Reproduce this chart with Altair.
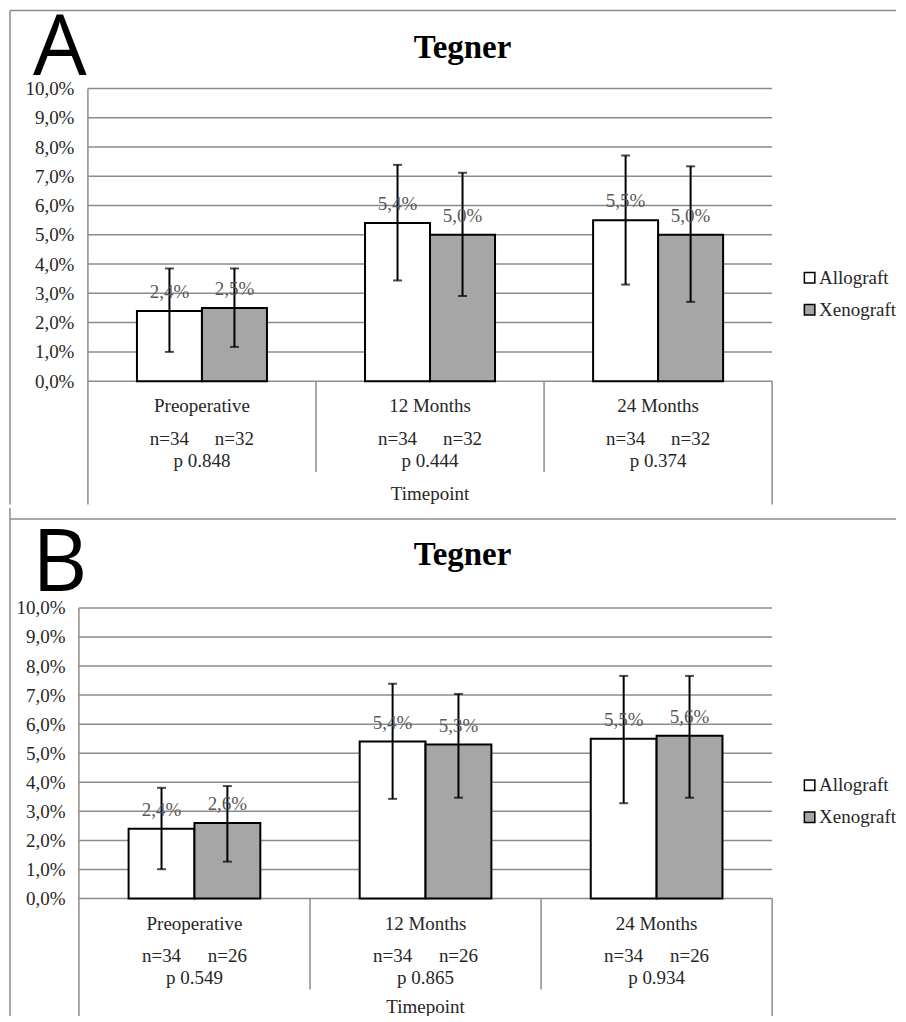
import altair as alt
import pandas as pd

SERIF = "Liberation Serif"
GRID = "#8c8c8c"
TXT = "#262626"

categories = ["Preoperative", "12 Months", "24 Months"]
groups = ["Allograft", "Xenograft"]
y_ticks = [0, 1, 2, 3, 4, 5, 6, 7, 8, 9, 10]

# ---- Panel A ----
a_allo = [2.4, 5.4, 5.5]
a_xeno = [2.5, 5.0, 5.0]
a_allo_lo = [1.0, 3.44, 3.30]
a_allo_hi = [3.85, 7.39, 7.71]
a_xeno_lo = [1.17, 2.91, 2.71]
a_xeno_hi = [3.85, 7.12, 7.34]
a_n_allo = [34, 34, 34]
a_n_xeno = [32, 32, 32]
a_p = ["0.848", "0.444", "0.374"]

# ---- Panel B ----
b_allo = [2.4, 5.4, 5.5]
b_xeno = [2.6, 5.3, 5.6]
b_allo_lo = [1.01, 3.43, 3.28]
b_allo_hi = [3.81, 7.39, 7.66]
b_xeno_lo = [1.27, 3.47, 3.47]
b_xeno_hi = [3.87, 7.04, 7.66]
b_n_allo = [34, 34, 34]
b_n_xeno = [26, 26, 26]
b_p = ["0.549", "0.865", "0.934"]

BAR = 0.285  # bar width as fraction of a category band


def fmt(v):
    return f"{v:.1f}".replace(".", ",") + "%"


def build_frames(allo, xeno, allo_lo, allo_hi, xeno_lo, xeno_hi, n_allo, n_xeno, p):
    rows = []
    for i, cat in enumerate(categories):
        for g, vals, lo, hi, n, side in [
            ("Allograft", allo, allo_lo, allo_hi, n_allo, -1),
            ("Xenograft", xeno, xeno_lo, xeno_hi, n_xeno, 0),
        ]:
            x0 = i + 0.5 + side * BAR
            rows.append(dict(cat=cat, group=g, value=vals[i], zero=0.0, lo=lo[i], hi=hi[i],
                             n=f"n={n[i]}", x0=x0, x1=x0 + BAR, xc=x0 + BAR / 2,
                             label=fmt(vals[i])))
    bars = pd.DataFrame(rows)
    cats = pd.DataFrame(dict(cat=categories, xc=[i + 0.5 for i in range(len(categories))],
                             p=["p " + s for s in p]))
    return bars, cats


def panel(letter, data, W, H, geo):
    bars_df, cats_df = build_frames(*data)
    gx0 = geo["gx0"]
    xs = alt.Scale(domain=[0, 3], range=[gx0, W], nice=False, zero=False)
    ys = alt.Scale(domain=[0, 10], nice=False, zero=True)
    yaxis = alt.Axis(values=y_ticks, title=None, grid=False, labelPadding=geo["lpad"],
                     labelExpr="replace(format(datum.value, '.1f'), '.', ',') + '%'")
    one = pd.DataFrame({"k": [0]})

    grid = alt.Chart(pd.DataFrame({"t": y_ticks})).mark_rule(color=GRID, strokeWidth=1.5).encode(
        x=alt.value(gx0), x2=alt.value(W),
        y=alt.Y("t:Q", scale=ys, axis=yaxis),
    )
    bars = alt.Chart(bars_df).mark_bar(stroke="black", strokeWidth=2).encode(
        x=alt.X("x0:Q", scale=xs, axis=None),
        x2="x1:Q",
        y=alt.Y("value:Q", scale=ys, axis=yaxis),
        y2="zero:Q",
        fill=alt.Fill("group:N",
                      scale=alt.Scale(domain=groups, range=["#ffffff", "#a6a6a6"]),
                      legend=alt.Legend(title=None, orient="none",
                                        legendX=geo["legx"], legendY=geo["legy"],
                                        symbolType="square", symbolSize=110,
                                        symbolStrokeColor="black", symbolStrokeWidth=1.5,
                                        labelFont=SERIF, labelFontSize=19, labelColor=TXT,
                                        labelOffset=0, rowPadding=12, padding=0)),
    )
    err = alt.Chart(bars_df).mark_rule(color="black", strokeWidth=2).encode(
        x=alt.X("xc:Q", scale=xs, axis=None),
        y=alt.Y("lo:Q", scale=ys, axis=yaxis),
        y2="hi:Q",
    )
    cap_hi = alt.Chart(bars_df).mark_tick(orient="horizontal", size=9, thickness=2, color="black").encode(
        x=alt.X("xc:Q", scale=xs, axis=None),
        y=alt.Y("hi:Q", scale=ys, axis=yaxis),
    )
    cap_lo = alt.Chart(bars_df).mark_tick(orient="horizontal", size=9, thickness=2, color="black").encode(
        x=alt.X("xc:Q", scale=xs, axis=None),
        y=alt.Y("lo:Q", scale=ys, axis=yaxis),
    )
    vals = alt.Chart(bars_df).mark_text(font=SERIF, fontSize=19, color="#595959",
                                        baseline="alphabetic", dy=-13).encode(
        x=alt.X("xc:Q", scale=xs, axis=None),
        y=alt.Y("value:Q", scale=ys, axis=yaxis),
        text="label:N",
    )
    cat_txt = alt.Chart(cats_df).mark_text(font=SERIF, fontSize=19, color=TXT,
                                           baseline="alphabetic").encode(
        x=alt.X("xc:Q", scale=xs, axis=None), y=alt.value(H + 31), text="cat:N")
    n_txt = alt.Chart(bars_df).mark_text(font=SERIF, fontSize=19, color=TXT,
                                         baseline="alphabetic").encode(
        x=alt.X("xc:Q", scale=xs, axis=None), y=alt.value(H + 64), text="n:N")
    p_txt = alt.Chart(cats_df).mark_text(font=SERIF, fontSize=19, color=TXT,
                                         baseline="alphabetic").encode(
        x=alt.X("xc:Q", scale=xs, axis=None), y=alt.value(H + 86), text="p:N")
    tp_txt = alt.Chart(one).mark_text(font=SERIF, fontSize=19, color=TXT,
                                      baseline="alphabetic", text="Timepoint").encode(
        x=alt.value((gx0 + W) / 2), y=alt.value(H + geo["tpy"]))

    left_line = alt.Chart(pd.DataFrame({"b": [0]})).mark_rule(color=GRID, strokeWidth=1.5).encode(
        x=alt.X("b:Q", scale=xs, axis=None), y=alt.value(0), y2=alt.value(H + geo["outer"]))
    right_line = alt.Chart(pd.DataFrame({"b": [3]})).mark_rule(color=GRID, strokeWidth=1.5).encode(
        x=alt.X("b:Q", scale=xs, axis=None), y=alt.value(H), y2=alt.value(H + geo["outer"]))
    inner_lines = alt.Chart(pd.DataFrame({"b": [1, 2]})).mark_rule(color=GRID, strokeWidth=1.5).encode(
        x=alt.X("b:Q", scale=xs, axis=None), y=alt.value(H), y2=alt.value(H + 91))

    title = alt.Chart(one).mark_text(font=SERIF, fontSize=33, fontWeight="bold", color="black",
                                     align="center", baseline="alphabetic", text="Tegner").encode(
        x=alt.value(geo["tx"]), y=alt.value(geo["ty"]))
    big = alt.Chart(one).mark_text(font="Open Sans", fontSize=geo["lfs"], color="black",
                                   align="left", baseline="alphabetic", text=letter).encode(
        x=alt.value(geo["lx"]), y=alt.value(geo["ly"]))

    bl = geo["bl"]
    border_left = alt.Chart(one).mark_rule(color=GRID, strokeWidth=1.5).encode(
        x=alt.value(bl), y=alt.value(geo["blt"]), y2=alt.value(geo["bb"]))
    border_top = alt.Chart(one).mark_rule(color=GRID, strokeWidth=1.5).encode(
        x=alt.value(bl), x2=alt.value(geo["br"]), y=alt.value(geo["bt"]))

    return alt.layer(
        grid, bars, err, cap_hi, cap_lo, vals,
        left_line, right_line, inner_lines, border_left, border_top,
        cat_txt, n_txt, p_txt, tp_txt, title, big,
    ).properties(width=W, height=H)


geoA = dict(gx0=0, lpad=14, legx=713, legy=180, tx=375, ty=-31, lx=-55, ly=-13, lfs=85,
            bl=-78, bt=-78, blt=-78, bb=416.5, br=809, outer=123.5, tpy=119)
geoB = dict(gx0=-9, lpad=23, legx=713, legy=168, tx=375, ty=-43, lx=-56, ly=-17, lfs=86,
            bl=-78, bt=-89, blt=-100, bb=416, br=809, outer=126, tpy=115)

pA = panel("A", (a_allo, a_xeno, a_allo_lo, a_allo_hi, a_xeno_lo, a_xeno_hi, a_n_allo, a_n_xeno, a_p),
           685, 293, geoA)
pB = panel("B", (b_allo, b_xeno, b_allo_lo, b_allo_hi, b_xeno_lo, b_xeno_hi, b_n_allo, b_n_xeno, b_p),
           685, 291, geoB)

chart = alt.vconcat(pA, pB, spacing=0).resolve_scale(
    fill="independent", x="independent", y="independent"
).resolve_legend(fill="independent").properties(
    padding={"left": 0, "top": -2, "right": 0, "bottom": -11},
    background="white",
).configure_view(stroke="transparent").configure_axis(
    labelFont=SERIF, labelFontSize=19, labelColor=TXT,
    domain=False, ticks=False,
)

chart.save("out.html", embed_options={"renderer": "svg", "actions": False})
